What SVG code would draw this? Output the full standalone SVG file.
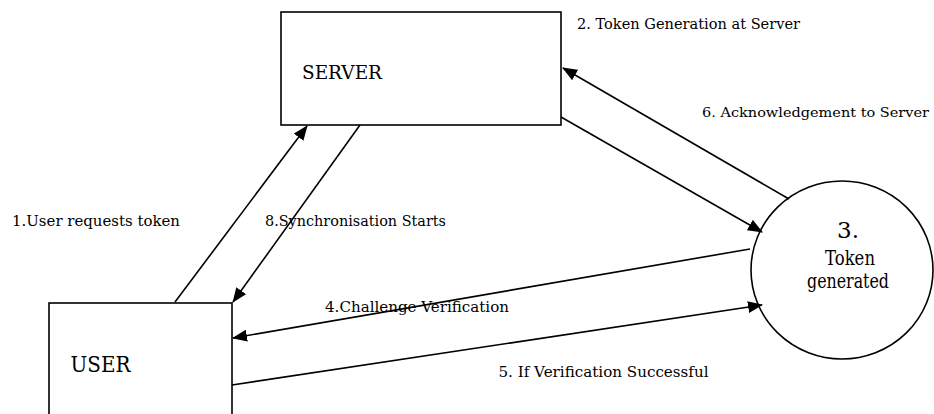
<svg xmlns="http://www.w3.org/2000/svg" width="934" height="414" viewBox="0 0 934 414">
<style>
.box{fill:#fff;stroke:#000;stroke-width:1.6}
.conn{fill:none;stroke:#000;stroke-width:1.6}
text{font-family:'DejaVu Serif','Liberation Serif','Noto Serif',serif;fill:#000}
.lbl{font-size:15px}
</style>
<defs>
<marker id="ah" viewBox="0 0 15 12" refX="14" refY="6" markerWidth="15" markerHeight="12" markerUnits="userSpaceOnUse" orient="auto">
<path d="M0,0 L15,6 L0,12 Z" fill="#000"/>
</marker>
</defs>
<rect width="934" height="414" fill="#fff"/>
<g id="server">
<rect class="box" x="281" y="12" width="280" height="113"/>
<text x="302" y="79" font-size="18" textLength="80" lengthAdjust="spacingAndGlyphs">SERVER</text>
</g>
<g id="user">
<rect class="box" x="49" y="303" width="183" height="130"/>
<text x="70.5" y="372" font-size="23" textLength="60" lengthAdjust="spacingAndGlyphs">USER</text>
</g>
<g id="token">
<ellipse class="box" cx="842" cy="270" rx="91" ry="89"/>
<text x="848" y="238" font-size="23" text-anchor="middle">3.</text>
<text x="850" y="265" font-size="20" text-anchor="middle" textLength="50" lengthAdjust="spacingAndGlyphs">Token</text>
<text x="848" y="288" font-size="20" text-anchor="middle" textLength="82" lengthAdjust="spacingAndGlyphs">generated</text>
</g>
<g id="connectors">
<line class="conn" x1="175" y1="302" x2="307" y2="126" marker-end="url(#ah)"/>
<line class="conn" x1="360" y1="125" x2="233" y2="302" marker-end="url(#ah)"/>
<line class="conn" x1="561" y1="117" x2="762" y2="232" marker-end="url(#ah)"/>
<line class="conn" x1="789" y1="199" x2="563" y2="68" marker-end="url(#ah)"/>
<line class="conn" x1="750" y1="249" x2="233" y2="338" marker-end="url(#ah)"/>
<line class="conn" x1="232" y1="385" x2="762" y2="305" marker-end="url(#ah)"/>
</g>
<g id="labels">
<text class="lbl" x="577" y="29" textLength="223" lengthAdjust="spacingAndGlyphs">2. Token Generation at Server</text>
<text x="702" y="116.5" font-size="13.5" textLength="227" lengthAdjust="spacingAndGlyphs">6. Acknowledgement to Server</text>
<text class="lbl" x="12" y="226" textLength="168" lengthAdjust="spacingAndGlyphs">1.User requests token</text>
<text class="lbl" x="265" y="225.5" textLength="181" lengthAdjust="spacingAndGlyphs">8.Synchronisation Starts</text>
<text class="lbl" x="325" y="311.5" textLength="184" lengthAdjust="spacingAndGlyphs">4.Challenge Verification</text>
<text class="lbl" x="498.5" y="376.5" textLength="210" lengthAdjust="spacingAndGlyphs">5. If Verification Successful</text>
</g>
</svg>
